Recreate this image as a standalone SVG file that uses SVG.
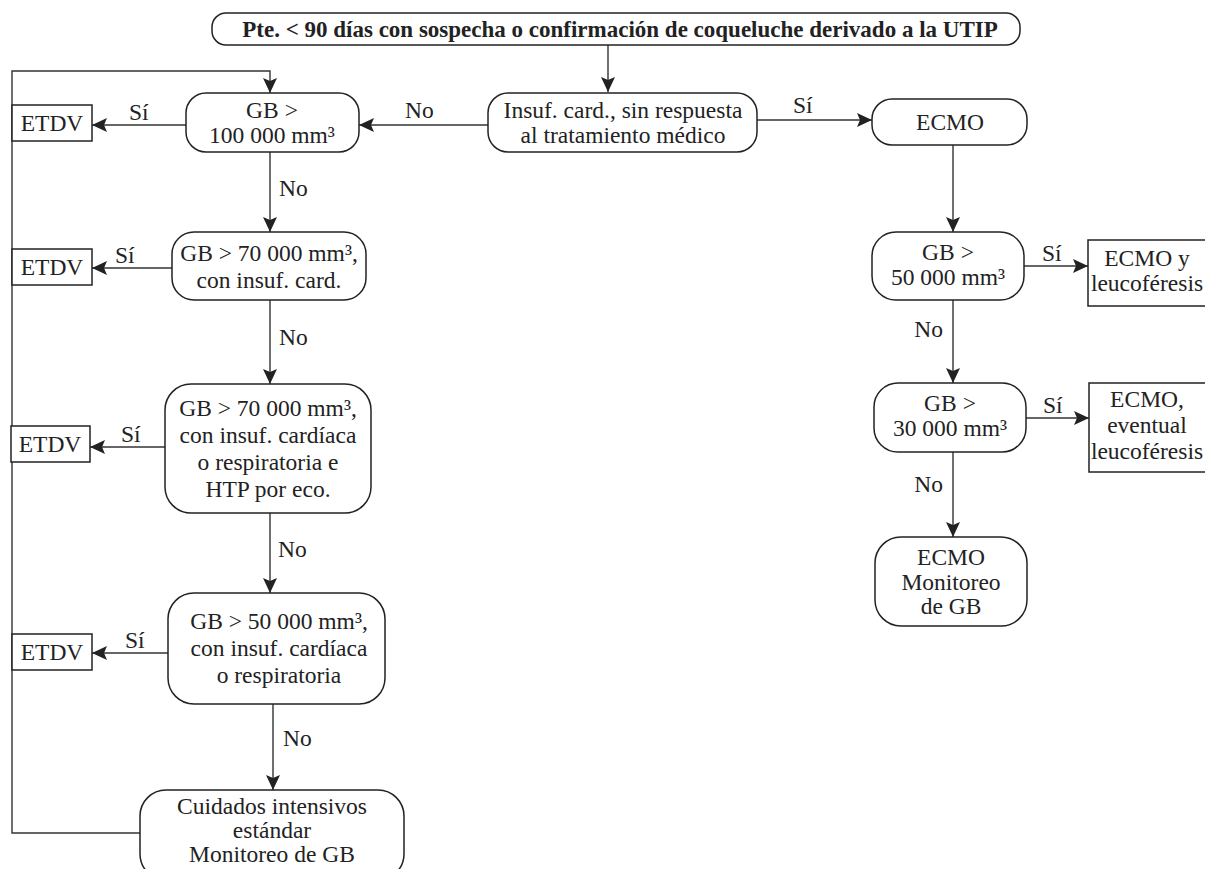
<svg xmlns="http://www.w3.org/2000/svg" width="1205" height="869" viewBox="0 0 1205 869">
<style>
text{font-family:"Liberation Serif","Times New Roman",serif;font-size:23.5px;fill:#222}
.t{font-weight:bold;font-size:23px}
.c{text-anchor:middle}
.box{fill:#fff;stroke:#222;stroke-width:1.5}
.ln{fill:none;stroke:#333;stroke-width:1.4}
</style>
<defs>
<marker id="ah" markerUnits="userSpaceOnUse" markerWidth="16" markerHeight="14" refX="15" refY="7" orient="auto">
<path d="M0,0 L15,7 L0,14 L3,7 z" fill="#222"/>
</marker>
</defs>
<g id="connectors">
<path class="ln" d="M608,45 V92" marker-end="url(#ah)"/>
<path class="ln" d="M488,125 H359" marker-end="url(#ah)"/>
<path class="ln" d="M757,120 H872" marker-end="url(#ah)"/>
<path class="ln" d="M186,125 H92" marker-end="url(#ah)"/>
<path class="ln" d="M270,152 V232" marker-end="url(#ah)"/>
<path class="ln" d="M172,268 H92" marker-end="url(#ah)"/>
<path class="ln" d="M270,300 V384" marker-end="url(#ah)"/>
<path class="ln" d="M165,447 H90" marker-end="url(#ah)"/>
<path class="ln" d="M270,513 V593" marker-end="url(#ah)"/>
<path class="ln" d="M168,653 H92" marker-end="url(#ah)"/>
<path class="ln" d="M273,704 V790" marker-end="url(#ah)"/>
<path class="ln" d="M140,833 H12 V71 H270 V93" marker-end="url(#ah)"/>
<path class="ln" d="M953,145 V232" marker-end="url(#ah)"/>
<path class="ln" d="M1024,266 H1088" marker-end="url(#ah)"/>
<path class="ln" d="M953,300 V383" marker-end="url(#ah)"/>
<path class="ln" d="M1026,418 H1089" marker-end="url(#ah)"/>
<path class="ln" d="M953,452 V537" marker-end="url(#ah)"/>
<text x="405" y="118">No</text>
<text x="793" y="113">Sí</text>
<text x="129" y="120">Sí</text>
<text x="279" y="196">No</text>
<text x="115" y="263">Sí</text>
<text x="279" y="345">No</text>
<text x="121" y="442">Sí</text>
<text x="278" y="557">No</text>
<text x="125" y="648">Sí</text>
<text x="283" y="746">No</text>
<text x="943" y="337" text-anchor="end">No</text>
<text x="1042" y="261">Sí</text>
<text x="943" y="492" text-anchor="end">No</text>
<text x="1043" y="413">Sí</text>
</g>
<g id="top">
<rect class="box" x="212" y="13" width="808" height="32" rx="14"/>
<text class="t c" x="620" y="37">Pte. &lt; 90 días con sospecha o confirmación de coqueluche derivado a la UTIP</text>
</g>
<g id="insuf">
<rect class="box" x="488" y="93" width="269" height="59" rx="20"/>
<text class="c" x="623" y="118">Insuf. card., sin respuesta</text>
<text class="c" x="623" y="143">al tratamiento médico</text>
</g>
<g id="gb100">
<rect class="box" x="186" y="93" width="173" height="59" rx="20"/>
<text class="c" x="272" y="118">GB &gt;</text>
<text class="c" x="272" y="143">100 000 mm³</text>
</g>
<g id="etdv1">
<rect class="box" x="12" y="105" width="80" height="36"/>
<text class="c" x="52" y="131">ETDV</text>
</g>
<g id="gb70a">
<rect class="box" x="172" y="232" width="194" height="68" rx="22"/>
<text class="c" x="269" y="261">GB &gt; 70 000 mm³,</text>
<text class="c" x="269" y="288">con insuf. card.</text>
</g>
<g id="etdv2">
<rect class="box" x="12" y="249" width="80" height="36"/>
<text class="c" x="52" y="275">ETDV</text>
</g>
<g id="gb70b">
<rect class="box" x="165" y="384" width="206" height="129" rx="26"/>
<text class="c" x="268" y="416">GB &gt; 70 000 mm³,</text>
<text class="c" x="268" y="443">con insuf. cardíaca</text>
<text class="c" x="268" y="470">o respiratoria e</text>
<text class="c" x="268" y="497">HTP por eco.</text>
</g>
<g id="etdv3">
<rect class="box" x="11" y="426" width="79" height="36"/>
<text class="c" x="50" y="452">ETDV</text>
</g>
<g id="gb50">
<rect class="box" x="168" y="593" width="217" height="111" rx="26"/>
<text class="c" x="279" y="629">GB &gt; 50 000 mm³,</text>
<text class="c" x="279" y="656">con insuf. cardíaca</text>
<text class="c" x="279" y="683">o respiratoria</text>
</g>
<g id="etdv4">
<rect class="box" x="12" y="634" width="80" height="36"/>
<text class="c" x="52" y="660">ETDV</text>
</g>
<g id="cuidados">
<rect class="box" x="140" y="790" width="264" height="90" rx="26"/>
<text class="c" x="272" y="814">Cuidados intensivos</text>
<text class="c" x="272" y="838">estándar</text>
<text class="c" x="272" y="862">Monitoreo de GB</text>
</g>
<g id="ecmo">
<rect class="box" x="872" y="99" width="155" height="46" rx="20"/>
<text class="c" x="950" y="130">ECMO</text>
</g>
<g id="gb50r">
<rect class="box" x="872" y="232" width="152" height="68" rx="24"/>
<text class="c" x="948" y="260">GB &gt;</text>
<text class="c" x="948" y="285">50 000 mm³</text>
</g>
<g id="ecmoy">
<rect class="box" x="1088" y="240" width="118" height="66"/>
<text class="c" x="1147" y="266">ECMO y</text>
<text class="c" x="1147" y="291">leucoféresis</text>
</g>
<g id="gb30">
<rect class="box" x="874" y="383" width="152" height="69" rx="24"/>
<text class="c" x="950" y="411">GB &gt;</text>
<text class="c" x="950" y="436">30 000 mm³</text>
</g>
<g id="ecmoev">
<rect class="box" x="1089" y="383" width="117" height="89"/>
<text class="c" x="1147" y="407">ECMO,</text>
<text class="c" x="1147" y="433">eventual</text>
<text class="c" x="1147" y="459">leucoféresis</text>
</g>
<g id="ecmomon">
<rect class="box" x="875" y="537" width="152" height="89" rx="26"/>
<text class="c" x="951" y="565">ECMO</text>
<text class="c" x="951" y="590">Monitoreo</text>
<text class="c" x="951" y="614">de GB</text>
</g>
</svg>
